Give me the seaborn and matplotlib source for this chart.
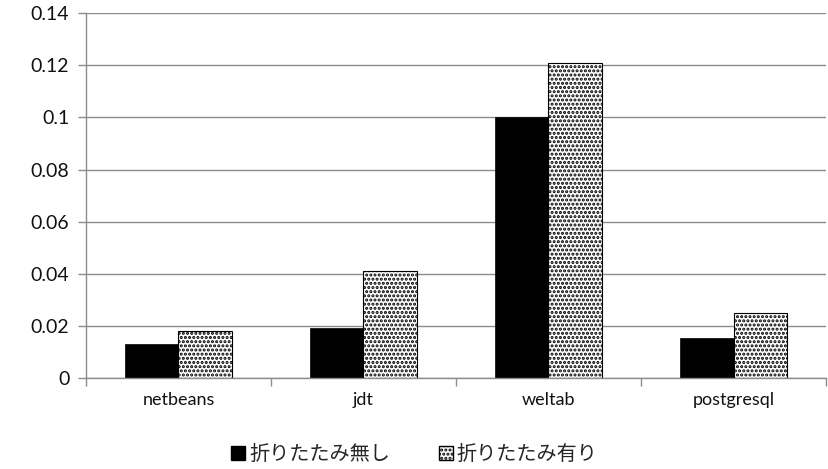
import pandas as pd
import matplotlib
matplotlib.use("Agg")
import matplotlib.pyplot as plt
import seaborn as sns
from matplotlib.patches import Patch

# データ
projects = ["netbeans", "jdt", "weltab", "postgresql"]
no_fold = [0.013, 0.019, 0.100, 0.0153]
with_fold = [0.018, 0.041, 0.121, 0.025]
series = ["折りたたみ無し", "折りたたみ有り"]

df = pd.DataFrame({
    "project": projects * 2,
    "value": no_fold + with_fold,
    "series": [series[0]] * 4 + [series[1]] * 4,
})

sns.set_style("white")
plt.rcParams["font.family"] = ["Lato", "Noto Sans CJK JP", "DejaVu Sans"]
plt.rcParams["hatch.linewidth"] = 1.5

fig = plt.figure(figsize=(8.29, 4.69), dpi=100)
ax = fig.add_axes([0.1037, 0.194, 0.8927, 0.778])

sns.barplot(data=df, x="project", y="value", hue="series", order=projects,
            hue_order=series, palette=["black", "white"], width=0.575,
            saturation=1, legend=False, ax=ax)

# 2番目の系列に点パターン
for bar in ax.containers[1]:
    bar.set_hatch("....")
    bar.set_edgecolor("black")
    bar.set_linewidth(0.8)
for bar in ax.containers[0]:
    bar.set_edgecolor("black")
    bar.set_linewidth(0.5)

ax.set_ylim(0, 0.14)
ax.set_xlim(-0.5, 3.5)
ax.set_yticks([0, 0.02, 0.04, 0.06, 0.08, 0.1, 0.12, 0.14])
ax.set_yticklabels(["0", "0.02", "0.04", "0.06", "0.08", "0.1", "0.12", "0.14"])
ax.yaxis.grid(True, color="#8c8c8c", linewidth=1)
ax.set_axisbelow(True)

for side in ["top", "right"]:
    ax.spines[side].set_visible(False)
for side in ["left", "bottom"]:
    ax.spines[side].set_color("#8c8c8c")
    ax.spines[side].set_linewidth(1)

ax.tick_params(axis="y", which="major", direction="out", length=6, color="#8c8c8c",
               width=1, left=True, labelsize=14, pad=6, labelcolor="#111111")
ax.tick_params(axis="x", which="major", length=0, labelsize=13, pad=10,
               labelcolor="#111111")
ax.set_xticks([-0.5, 0.5, 1.5, 2.5, 3.5], minor=True)
ax.tick_params(axis="x", which="minor", direction="out", length=6, color="#8c8c8c",
               width=1, bottom=True)
ax.set_xlabel("")
ax.set_ylabel("")

handles = [Patch(facecolor="black", edgecolor="black", label=series[0]),
           Patch(facecolor="white", edgecolor="black", hatch="....", label=series[1])]
fig.legend(handles=handles, loc="center", bbox_to_anchor=(0.5, 0.034), ncol=2,
           frameon=False, fontsize=14.5, handlelength=0.7, handleheight=0.7,
           handletextpad=0.2, columnspacing=2.4)

fig.savefig("out.png", dpi=100)
